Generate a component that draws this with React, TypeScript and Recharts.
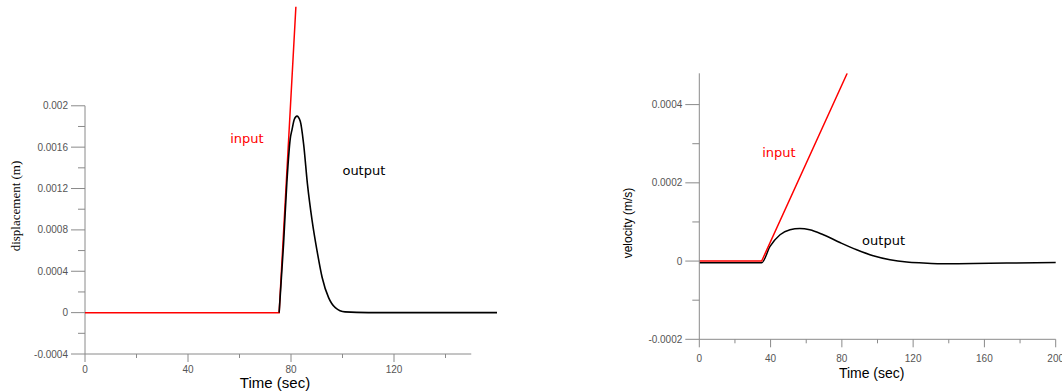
import React from 'react';
import { LineChart, Line, XAxis, YAxis, ReferenceLine, ReferenceDot } from 'recharts';

// ---------- Left chart: displacement ----------
const dispInputT = [0, 75.4, 81.9];
const dispInputV = [0, 0, 0.00296];
const dispOutputT = [75.4, 77.1, 78.4, 79.7, 80.4, 81.3, 82.3, 83.6, 84.9, 86.4, 88.2, 90.1, 92.1, 94.6, 97.2, 101, 110, 130, 160];
const dispOutputV = [0, 0.00066, 0.00126, 0.00168, 0.00177, 0.00187, 0.0019, 0.00185, 0.00163, 0.00124, 0.00089, 0.0006, 0.00034, 0.000145, 0.000048, 0.000007, 0, 0, 0];
const dispXTicks = [0, 20, 40, 60, 80, 100, 120, 140];
const dispXLabels = ['0', '', '40', '', '80', '', '120', ''];
const dispYTicks = [-0.0004, -0.0002, 0, 0.0002, 0.0004, 0.0006, 0.0008, 0.001, 0.0012, 0.0014, 0.0016, 0.0018, 0.002];
const dispYLabels = ['-0.0004', '', '0', '', '0.0004', '', '0.0008', '', '0.0012', '', '0.0016', '', '0.002'];

// ---------- Right chart: velocity ----------
const velInputT = [0, 35, 83];
const velInputV = [0, 0, 0.00048];
const velOutputT = [0, 35, 39.7, 45.3, 50.9, 56.4, 62, 69.6, 78.9, 88.3, 97.6, 107, 116.4, 125.7, 135, 153.7, 172.5, 200];
const velOutputV = [-0.0000043, -0.0000043, 0.0000373, 0.0000672, 0.00008, 0.0000833, 0.00008, 0.0000672, 0.0000475, 0.0000289, 0.0000135, 0.0000033, -0.0000026, -0.0000051, -0.0000069, -0.0000061, -0.0000051, -0.0000036];
const velXTicks = [0, 20, 40, 60, 80, 100, 120, 140, 160, 180, 200];
const velXLabels = ['0', '', '40', '', '80', '', '120', '', '160', '', '200'];
const velYTicks = [-0.0002, -0.0001, 0, 0.0001, 0.0002, 0.0003, 0.0004];
const velYLabels = ['-0.0002', '', '0', '', '0.0002', '', '0.0004'];

const toPts = (ts: number[], vs: number[]) => ts.map((t, i) => ({ t, v: vs[i] }));

const AXIS = '#8a8a8a';
const TICKTXT = '#555';
const SANS = '"Liberation Sans", Arial, sans-serif';
const DEJA = '"DejaVu Sans", Verdana, sans-serif';

const makeYTick = (ticks: number[], labels: string[]) => (props: any) => {
  const { x, y, payload } = props;
  const idx = ticks.indexOf(payload.value);
  const lbl = idx >= 0 ? labels[idx] : '';
  const major = lbl !== '';
  return (
    <g>
      <line x1={x - (major ? 14 : 7)} x2={x} y1={y} y2={y} stroke={AXIS} strokeWidth={1} />
      {major && (
        <text x={x - 17} y={y} textAnchor="end" dominantBaseline="central" fill={TICKTXT} fontSize={10} fontFamily={SANS}>
          {lbl}
        </text>
      )}
    </g>
  );
};

const makeXTick = (ticks: number[], labels: string[], dy: number) => (props: any) => {
  const { x, y, payload } = props;
  const idx = ticks.indexOf(payload.value);
  const lbl = idx >= 0 ? labels[idx] : '';
  const major = lbl !== '';
  return (
    <g>
      <line x1={x} x2={x} y1={y} y2={y + (major ? 8 : 4)} stroke={AXIS} strokeWidth={1} />
      {major && (
        <text x={x} y={y + dy} textAnchor="middle" dominantBaseline="central" fill={TICKTXT} fontSize={10} fontFamily={SANS}>
          {lbl}
        </text>
      )}
    </g>
  );
};

export default function App() {
  return (
    <div style={{ position: 'absolute', left: 0, top: 0, width: 1062, height: 392, background: '#fff' }}>
      <div style={{ position: 'absolute', left: 0, top: 0 }}>
        <LineChart width={520} height={392} margin={{ top: 6.5, right: 23, bottom: 8, left: 25 }}>
          <XAxis
            type="number"
            dataKey="t"
            domain={[0, 160]}
            ticks={dispXTicks}
            interval={0}
            axisLine={false}
            tickLine={false}
            tickSize={0}
            tickMargin={0}
            height={30}
            tick={makeXTick(dispXTicks, dispXLabels, 15)}
            label={(p: any) => (
              <text x={p.viewBox.x + 190} y={p.viewBox.y + 28} textAnchor="middle" dominantBaseline="central" fontSize={15} fontFamily={SANS} fill="#000">
                Time (sec)
              </text>
            )}
          />
          <YAxis
            type="number"
            dataKey="v"
            domain={[-0.0004, 0.00296]}
            allowDataOverflow
            ticks={dispYTicks}
            interval={0}
            axisLine={false}
            tickLine={false}
            tickSize={0}
            tickMargin={0}
            width={60}
            tick={makeYTick(dispYTicks, dispYLabels)}
            label={(p: any) => (
              <text x={15} y={206} transform="rotate(-90 15 206)" textAnchor="middle" dominantBaseline="central" fontSize={13} fontFamily='"Liberation Serif", "Times New Roman", serif' fill="#000">
                displacement (m)
              </text>
            )}
          />
          <ReferenceLine segment={[{ x: 0, y: -0.0004 }, { x: 150, y: -0.0004 }]} stroke={AXIS} strokeWidth={1} />
          <ReferenceLine segment={[{ x: 0, y: -0.0004 }, { x: 0, y: 0.002 }]} stroke={AXIS} strokeWidth={1} />
          <Line data={toPts(dispInputT, dispInputV)} dataKey="v" type="linear" stroke="#ff0000" strokeWidth={1.5} dot={false} isAnimationActive={false} />
          <Line data={toPts(dispOutputT, dispOutputV)} dataKey="v" type="monotone" stroke="#000" strokeWidth={1.6} dot={false} isAnimationActive={false} />
          <ReferenceDot x={62.9} y={0.00168} r={0} fill="none" stroke="none" label={{ value: 'input', position: 'center', fill: '#ff0000', fontSize: 13, fontFamily: DEJA }} />
          <ReferenceDot x={108.3} y={0.00138} r={0} fill="none" stroke="none" label={{ value: 'output', position: 'center', fill: '#000', fontSize: 13, fontFamily: DEJA }} />
        </LineChart>
      </div>
      <div style={{ position: 'absolute', left: 540, top: 0 }}>
        <LineChart width={522} height={392} margin={{ top: 73.3, right: 6.3, bottom: 22.7, left: 99.3 }}>
          <XAxis
            type="number"
            dataKey="t"
            domain={[0, 200]}
            ticks={velXTicks}
            interval={0}
            axisLine={{ stroke: AXIS }}
            tickLine={false}
            tickSize={0}
            tickMargin={0}
            height={30}
            tick={makeXTick(velXTicks, velXLabels, 19)}
            label={(p: any) => (
              <text x={p.viewBox.x + 172.4} y={p.viewBox.y + 34} textAnchor="middle" dominantBaseline="central" fontSize={14} fontFamily={SANS} fill="#000">
                Time (sec)
              </text>
            )}
          />
          <YAxis
            type="number"
            dataKey="v"
            domain={[-0.0002, 0.00048]}
            allowDataOverflow
            ticks={velYTicks}
            interval={0}
            axisLine={{ stroke: AXIS }}
            tickLine={false}
            tickSize={0}
            tickMargin={0}
            width={60}
            tick={makeYTick(velYTicks, velYLabels)}
            label={(p: any) => (
              <text x={88} y={223} transform="rotate(-90 88 223)" textAnchor="middle" dominantBaseline="central" fontSize={12} fontFamily={SANS} fill="#000">
                velocity (m/s)
              </text>
            )}
          />
          <Line data={toPts(velOutputT, velOutputV)} dataKey="v" type="monotone" stroke="#000" strokeWidth={1.5} dot={false} isAnimationActive={false} />
          <Line data={toPts(velInputT, velInputV)} dataKey="v" type="linear" stroke="#ff0000" strokeWidth={1.5} dot={false} isAnimationActive={false} />
          <ReferenceDot x={44.7} y={0.000277} r={0} fill="none" stroke="none" label={{ value: 'input', position: 'center', fill: '#ff0000', fontSize: 13, fontFamily: DEJA }} />
          <ReferenceDot x={103.4} y={0.0000518} r={0} fill="none" stroke="none" label={{ value: 'output', position: 'center', fill: '#000', fontSize: 13, fontFamily: DEJA }} />
        </LineChart>
      </div>
    </div>
  );
}
